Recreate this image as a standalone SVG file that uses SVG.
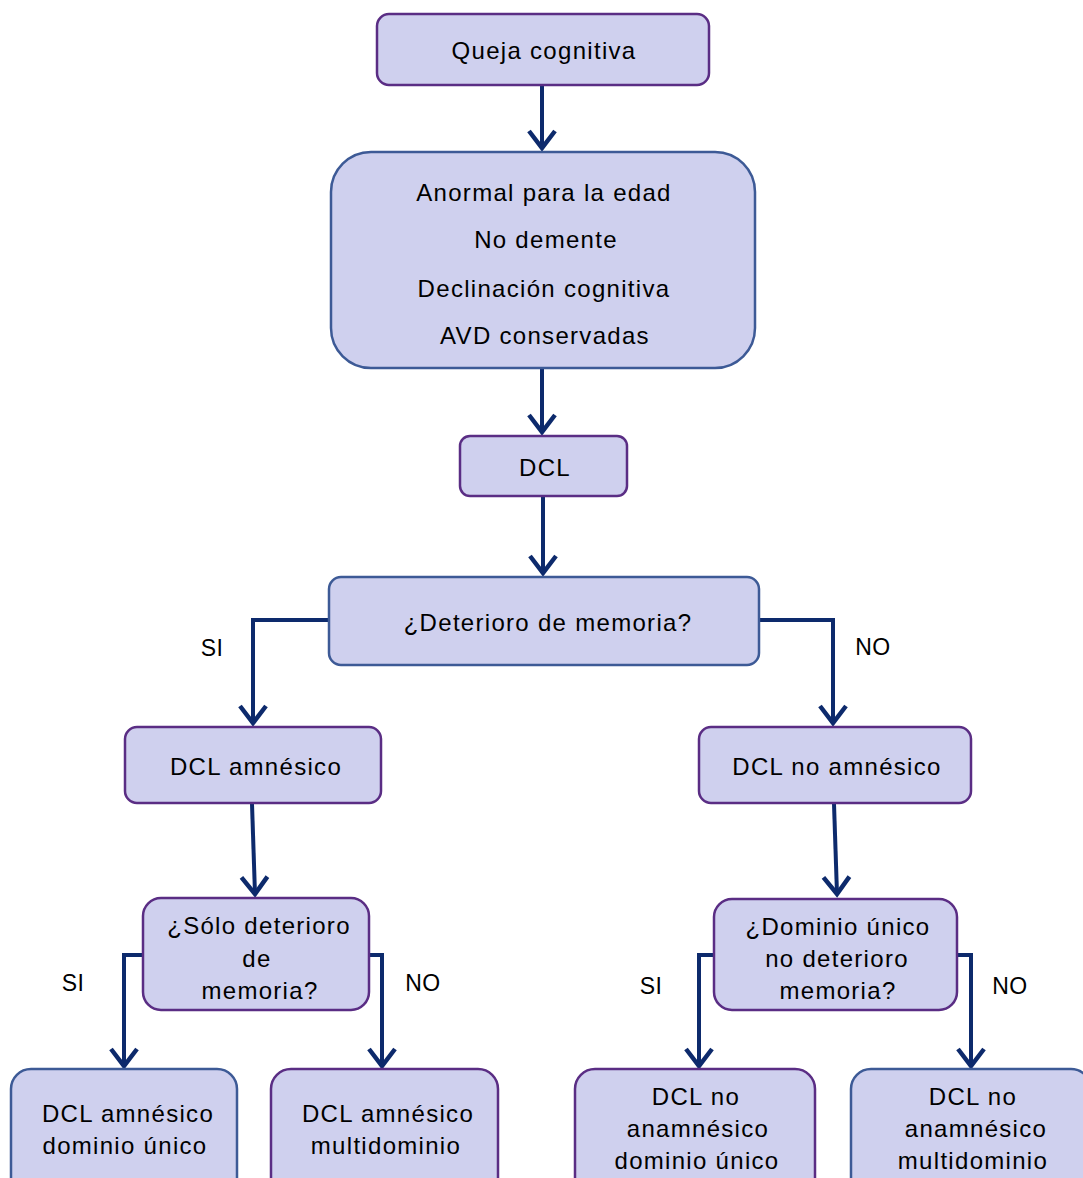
<svg xmlns="http://www.w3.org/2000/svg" width="1083" height="1178" viewBox="0 0 1083 1178">
<defs>
<style>
.box{fill:#cfd0ee;stroke-width:2.5}
.p{stroke:#5a2d84}
.b{stroke:#3d5a96}
text{font-family:"Liberation Sans",Arial,sans-serif;font-size:24px;fill:#000;text-anchor:middle;letter-spacing:1.3px}
#labels text{font-size:23px;letter-spacing:0.5px}
.c{fill:none;stroke:#0d2a6c;stroke-width:4;marker-end:url(#ah)}
</style>
<marker id="ah" markerUnits="userSpaceOnUse" markerWidth="40" markerHeight="40" viewBox="-22 -20 40 40" refX="0" refY="0" orient="auto">
<path d="M-17,-13 L0,0 L-17,13" fill="none" stroke="#0d2a6c" stroke-width="4.5" stroke-linejoin="miter"/>
</marker>
</defs>
<rect width="1083" height="1178" fill="#fff"/>
<g id="connectors">
<path class="c" d="M542,86 V148"/>
<path class="c" d="M542,369 V432"/>
<path class="c" d="M543,497 V573"/>
<path class="c" d="M329,620 H253 V723"/>
<path class="c" d="M759,620 H833 V723"/>
<path class="c" d="M252,804 L255,894"/>
<path class="c" d="M834,804 L837,894"/>
<path class="c" d="M143,955 H124 V1066"/>
<path class="c" d="M369,955 H382 V1066"/>
<path class="c" d="M714,955 H699 V1066"/>
<path class="c" d="M957,955 H971 V1066"/>
</g>
<g id="labels">
<text x="212" y="656">SI</text>
<text x="873" y="655">NO</text>
<text x="73" y="991">SI</text>
<text x="423" y="991">NO</text>
<text x="651" y="994">SI</text>
<text x="1010" y="994">NO</text>
</g>
<g id="n1"><rect class="box p" x="377" y="14" width="332" height="71" rx="12"/><text x="544" y="59">Queja cognitiva</text></g>
<g id="n2"><rect class="box b" x="331" y="152" width="424" height="216" rx="40"/>
<text x="544" y="201">Anormal para la edad</text>
<text x="546" y="248">No demente</text>
<text x="544" y="297">Declinación cognitiva</text>
<text x="545" y="344">AVD conservadas</text></g>
<g id="n3"><rect class="box p" x="460" y="436" width="167" height="60" rx="10"/><text x="545" y="476">DCL</text></g>
<g id="n4"><rect class="box b" x="329" y="577" width="430" height="88" rx="12"/><text x="548" y="631">¿Deterioro de memoria?</text></g>
<g id="n5"><rect class="box p" x="125" y="727" width="256" height="76" rx="12"/><text x="256" y="775">DCL amnésico</text></g>
<g id="n6"><rect class="box p" x="699" y="727" width="272" height="76" rx="12"/><text x="837" y="775">DCL no amnésico</text></g>
<g id="n7"><rect class="box p" x="143" y="898" width="226" height="112" rx="18"/>
<text x="259" y="934">¿Sólo deterioro</text><text x="257" y="967">de</text><text x="260" y="999">memoria?</text></g>
<g id="n8"><rect class="box p" x="714" y="899" width="243" height="111" rx="18"/>
<text x="838" y="935">¿Dominio único</text><text x="837" y="967">no deterioro</text><text x="838" y="999">memoria?</text></g>
<g id="n9"><rect class="box b" x="11" y="1069" width="226" height="130" rx="20"/>
<text x="128" y="1122">DCL amnésico</text><text x="125" y="1154">dominio único</text></g>
<g id="n10"><rect class="box p" x="271" y="1069" width="227" height="130" rx="20"/>
<text x="388" y="1122">DCL amnésico</text><text x="386" y="1154">multidominio</text></g>
<g id="n11"><rect class="box p" x="575" y="1069" width="240" height="130" rx="20"/>
<text x="696" y="1105">DCL no</text><text x="698" y="1137">anamnésico</text><text x="697" y="1169">dominio único</text></g>
<g id="n12"><rect class="box b" x="851" y="1069" width="240" height="130" rx="20"/>
<text x="973" y="1105">DCL no</text><text x="976" y="1137">anamnésico</text><text x="973" y="1169">multidominio</text></g>
</svg>
